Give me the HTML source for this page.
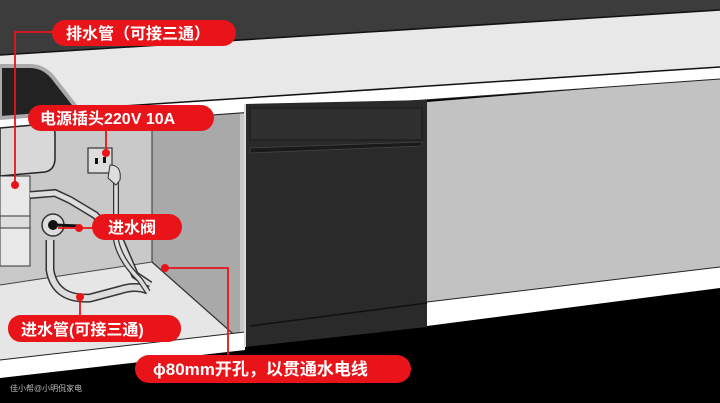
<!DOCTYPE html>
<html><head><meta charset="utf-8"><style>
html,body{margin:0;padding:0;background:#000;}
svg{display:block}
text{font-family:"Liberation Sans","Noto Sans CJK SC",sans-serif;font-weight:bold;fill:#fff;}
</style></head><body>
<svg width="720" height="403" viewBox="0 0 720 403" xmlns="http://www.w3.org/2000/svg">
<rect width="720" height="403" fill="#000"/>
<!-- top dark wall -->
<polygon points="0,0 720,0 720,10 0,55" fill="#3c3c3c"/>
<!-- cabinet interior back wall -->
<polygon points="0,110 245,100 245,350 0,370" fill="#c9c9c9"/>
<!-- side wall -->
<polygon points="152,112 240,106 240,345 152,270" fill="#a9a9a9"/>
<line x1="152" y1="112" x2="152" y2="270" stroke="#333" stroke-width="1"/>
<!-- floor -->
<polygon points="0,285 152,262 240,340 0,362" fill="#e6e6e6"/>
<line x1="0" y1="285" x2="152" y2="262" stroke="#444" stroke-width="1"/>
<line x1="152" y1="262" x2="240" y2="340" stroke="#333" stroke-width="1.2"/>
<!-- cabinet front white strip -->
<polygon points="0,360 245,332 245,350 0,378" fill="#fff"/>
<line x1="0" y1="360" x2="245" y2="332" stroke="#222" stroke-width="1"/>
<!-- right cabinet panel -->
<polygon points="427,102 720,78 720,267 427,302" fill="#c2c2c2"/>
<polygon points="427,302 720,267 720,288 427,326" fill="#fff"/>
<line x1="427" y1="302" x2="720" y2="267" stroke="#222" stroke-width="1"/>
<!-- countertop -->
<polygon points="0,55 720,10 720,67 0,114" fill="#e8e8e8"/>
<line x1="0" y1="55" x2="720" y2="10" stroke="#111" stroke-width="1.5"/>
<polygon points="0,114 720,67 720,79 0,130" fill="#fff"/>
<line x1="0" y1="114" x2="720" y2="67" stroke="#111" stroke-width="1.5"/>
<line x1="0" y1="130" x2="720" y2="79" stroke="#222" stroke-width="1"/>
<!-- sink -->
<path d="M0,66 L30,66 Q45,66 55,80 L80,112 L0,118 Z" fill="#222" stroke="#aaa" stroke-width="4"/>
<path d="M0,128 L45,124 Q55,124 55,134 L55,158 Q55,170 45,172 L0,176 Z" fill="#d8d8d8" stroke="#222" stroke-width="1.5"/>
<rect x="0" y="176" width="30" height="90" fill="#e8e8e8" stroke="#333" stroke-width="1"/>
<rect x="0" y="216" width="30" height="12" fill="#ddd" stroke="#333" stroke-width="1"/>
<!-- pipes -->
<path d="M30,195 L55,193 L70,200 L95,215 L120,240 L135,275 L150,285" fill="none" stroke="#333" stroke-width="8"/>
<path d="M30,195 L55,193 L70,200 L95,215 L120,240 L135,275 L150,285" fill="none" stroke="#ddd" stroke-width="5"/>
<path d="M50,240 L50,270 Q55,300 90,298 L120,290 Q135,285 148,290" fill="none" stroke="#333" stroke-width="9"/>
<path d="M50,240 L50,270 Q55,300 90,298 L120,290 Q135,285 148,290" fill="none" stroke="#ddd" stroke-width="6"/>
<path d="M116,180 L116,240 Q120,260 140,280 L148,292" fill="none" stroke="#333" stroke-width="6"/>
<path d="M116,180 L116,240 Q120,260 140,280 L148,292" fill="none" stroke="#ddd" stroke-width="3.5"/>
<circle cx="53" cy="225" r="11" fill="#ddd" stroke="#333" stroke-width="1.5"/>
<circle cx="53" cy="225" r="5" fill="#111"/>
<line x1="55" y1="225" x2="80" y2="226" stroke="#111" stroke-width="3"/>
<!-- socket -->
<rect x="88" y="148" width="24" height="25" fill="#ddd" stroke="#333" stroke-width="1.2"/>
<rect x="95" y="158" width="3" height="6" fill="#111"/><rect x="103" y="157" width="3" height="6" fill="#111"/>
<path d="M110,165 Q122,165 120,180 L116,185 L108,178 Z" fill="#ddd" stroke="#333" stroke-width="1"/>
<!-- dishwasher -->
<polygon points="245,104 427,100 427,327 245,347" fill="#2a2a2a"/>
<line x1="245" y1="104" x2="245" y2="347" stroke="#ddd" stroke-width="2"/>
<rect x="250" y="108" width="172" height="32" fill="#2f2f2f" stroke="#1a1a1a"/>
<path d="M250,148 L422,142 L422,146 L250,153 Z" fill="#1a1a1a" stroke="#444" stroke-width="0.8"/>
<line x1="250" y1="326" x2="427" y2="303" stroke="#111" stroke-width="1.5"/>
<!-- connectors -->
<g stroke="#e8141a" stroke-width="1.8" fill="none">
<polyline points="55,32 15,32 15,185"/>
<line x1="106" y1="130" x2="106" y2="153"/>
<line x1="58" y1="228" x2="95" y2="228"/>
<line x1="80" y1="297" x2="80" y2="318"/>
<polyline points="165,268 228,268 228,358"/>
</g>
<g fill="#e8141a">
<circle cx="15" cy="185" r="4"/><circle cx="106" cy="153" r="4"/><circle cx="79" cy="228" r="4"/>
<circle cx="80" cy="297" r="4"/><circle cx="165" cy="268" r="4"/>
<rect x="52" y="20" width="184" height="26" rx="13"/>
<rect x="28" y="105" width="186" height="26" rx="13"/>
<rect x="92" y="214" width="90" height="26" rx="13"/>
<rect x="8" y="315" width="173" height="27" rx="13"/>
<rect x="135" y="355" width="276" height="28" rx="14"/>
</g>
<text x="66" y="39" font-size="16">排水管（可接三通）</text>
<text x="40" y="124" font-size="16">电源插头220V 10A</text>
<text x="108" y="233" font-size="16">进水阀</text>
<text x="21" y="335" font-size="16">进水管(可接三通)</text>
<text x="153" y="375" font-size="17">ϕ80mm开孔，以贯通水电线</text>
<text x="10" y="391" font-size="8" style="font-weight:normal;fill:#bbb">佳小帮@小明侃家电</text>
</svg>
</body></html>
